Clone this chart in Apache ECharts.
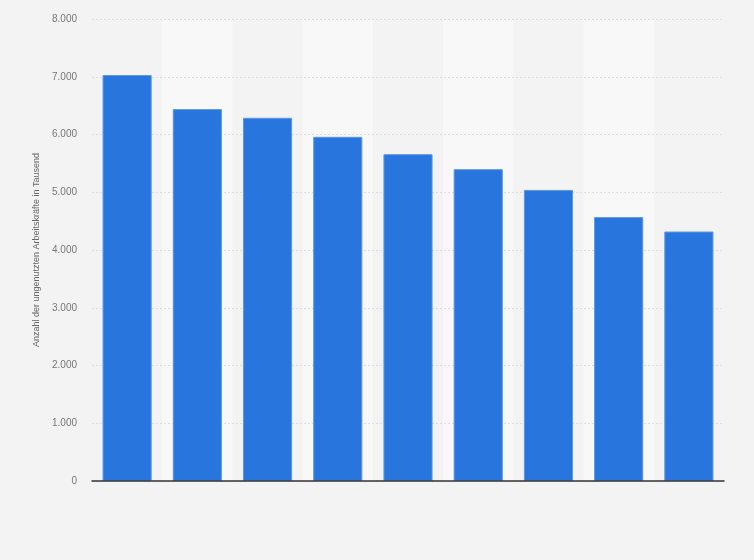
<!DOCTYPE html>
<html>
<head>
<meta charset="utf-8">
<script src="https://cdn.jsdelivr.net/npm/echarts@6/dist/echarts.min.js"></script>
<style>
html,body{margin:0;padding:0;background:#f3f3f3;}
#chart{width:754px;height:560px;}
</style>
</head>
<body>
<div id="chart"></div>
<script>
const categories = ['1', '2', '3', '4', '5', '6', '7', '8', '9'];
const values = [7030, 6440, 6290, 5960, 5660, 5400, 5040, 4570, 4320];
const yTicks = { min: 0, max: 8000, interval: 1000 };
const yAxisTitle = 'Anzahl der ungenutzten Arbeitskräfte in Tausend';

function fmt(v) {
  return String(v).replace(/\B(?=(\d{3})+(?!\d))/g, '.');
}

const chart = echarts.init(document.getElementById('chart'));
chart.setOption({
  backgroundColor: '#f3f3f3',
  animation: false,
  grid: { left: 92, right: 30, top: 19, bottom: 79 },
  xAxis: [{
    type: 'category',
    data: categories,
    z: 0,
    axisLine: { show: false },
    axisTick: { show: false },
    axisLabel: { show: false },
    splitArea: { show: true, areaStyle: { color: ['rgba(0,0,0,0)', '#f8f8f8'] } }
  }, {
    type: 'category',
    data: categories,
    position: 'bottom',
    z: 5,
    axisLine: { show: true, lineStyle: { color: '#333', width: 1.5 } },
    axisTick: { show: false },
    axisLabel: { show: false },
    splitLine: { show: false },
    splitArea: { show: false }
  }],
  yAxis: {
    type: 'value',
    z: 1,
    min: yTicks.min,
    max: yTicks.max,
    interval: yTicks.interval,
    name: yAxisTitle,
    nameLocation: 'middle',
    nameGap: 42,
    nameTextStyle: { color: '#666', fontSize: 9, fontFamily: 'Arial, Liberation Sans, sans-serif' },
    axisLine: { show: false },
    axisTick: { show: false },
    axisLabel: {
      color: '#777',
      fontSize: 10,
      margin: 15,
      fontFamily: 'Arial, Liberation Sans, sans-serif',
      formatter: fmt
    },
    splitLine: { show: true, lineStyle: { color: '#dcdcdc', type: [2, 2], width: 1 } }
  },
  series: [{
    type: 'bar',
    xAxisIndex: 0,
    z: 2,
    data: values,
    barWidth: '70%',
    itemStyle: { color: '#2876dd', borderColor: '#5d98e6', borderWidth: 1 }
  }]
});
</script>
</body>
</html>
